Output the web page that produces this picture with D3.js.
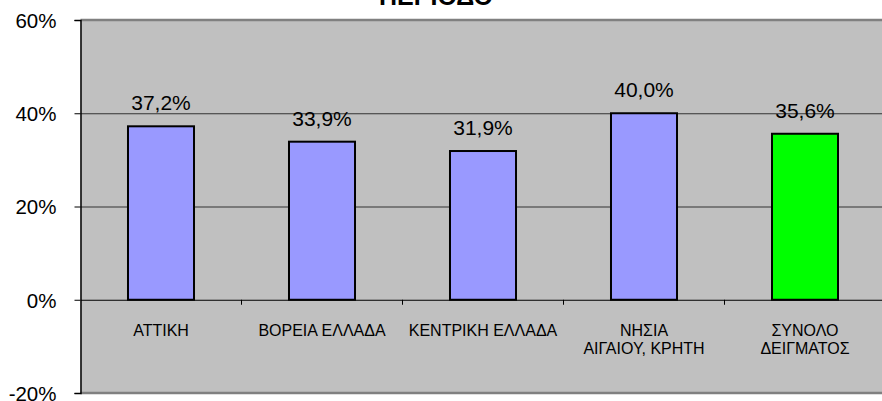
<!DOCTYPE html>
<html>
<head>
<meta charset="utf-8">
<script src="https://cdn.jsdelivr.net/npm/d3@7"></script>
<style>
  body { margin: 0; background: #fff; }
  svg { display: block; font-family: "Liberation Sans", Arial, sans-serif; }
  .y-axis text { font-size: 20.5px; fill: #000; }
  .x-axis text { font-size: 16px; fill: #000; }
  .value { font-size: 21px; fill: #000; }
  .title { font-size: 25px; font-weight: bold; }
</style>
</head>
<body>
<svg id="chart" width="882" height="401"></svg>
<script>
const categories = ["ΑΤΤΙΚΗ", "ΒΟΡΕΙΑ ΕΛΛΑΔΑ", "ΚΕΝΤΡΙΚΗ ΕΛΛΑΔΑ", "ΝΗΣΙΑ ΑΙΓΑΙΟΥ, ΚΡΗΤΗ", "ΣΥΝΟΛΟ ΔΕΙΓΜΑΤΟΣ"];
const categoryLines = [["ΑΤΤΙΚΗ"], ["ΒΟΡΕΙΑ ΕΛΛΑΔΑ"], ["ΚΕΝΤΡΙΚΗ ΕΛΛΑΔΑ"], ["ΝΗΣΙΑ", "ΑΙΓΑΙΟΥ, ΚΡΗΤΗ"], ["ΣΥΝΟΛΟ", "ΔΕΙΓΜΑΤΟΣ"]];
const values = [37.2, 33.9, 31.9, 40.0, 35.6];
const yTicks = [-20, 0, 20, 40, 60];
const title = "ΠΕΡΙΟΔΟ";

const svg = d3.select("#chart");
const plotLeft = 80.5, plotRight = 885.5, plotTop = 20, plotBottom = 393;

const x = d3.scaleBand()
  .domain(categories)
  .range([plotLeft, plotRight])
  .paddingInner(0.59)
  .paddingOuter(0.295);

const y = d3.scaleLinear().domain([-20, 60]).range([plotBottom, plotTop]);

// plot background
svg.append("rect")
  .attr("x", plotLeft).attr("y", plotTop)
  .attr("width", plotRight - plotLeft).attr("height", plotBottom - plotTop)
  .attr("fill", "#c0c0c0");

// gridlines
svg.append("g").selectAll("line")
  .data([20, 40])
  .join("line")
  .attr("x1", plotLeft).attr("x2", plotRight)
  .attr("y1", d => y(d) + 0.5).attr("y2", d => y(d) + 0.5)
  .attr("stroke", "#333").attr("stroke-width", 1);

// top / bottom border of plot area
svg.append("g").selectAll("line")
  .data([60, -20])
  .join("line")
  .attr("x1", plotLeft).attr("x2", plotRight)
  .attr("y1", d => y(d)).attr("y2", d => y(d))
  .attr("stroke", "#808080").attr("stroke-width", 2.5);

// bars
svg.append("g").selectAll("rect")
  .data(values)
  .join("rect")
  .attr("x", (d, i) => x(categories[i]))
  .attr("y", d => y(d))
  .attr("width", x.bandwidth())
  .attr("height", d => y(0) - y(d))
  .attr("fill", (d, i) => i === categories.length - 1 ? "#00ff00" : "#9999ff")
  .attr("stroke", "#000")
  .attr("stroke-width", 2);

// value labels
svg.append("g").selectAll("text")
  .data(values)
  .join("text")
  .attr("class", "value")
  .attr("x", (d, i) => x(categories[i]) + x.bandwidth() / 2)
  .attr("y", d => y(d) - 16)
  .attr("text-anchor", "middle")
  .text(d => d.toFixed(1).replace(".", ",") + "%");

// y axis
const yAxis = svg.append("g")
  .attr("class", "y-axis")
  .attr("transform", `translate(${plotLeft},0)`)
  .call(d3.axisLeft(y).tickValues(yTicks).tickSize(6).tickPadding(18).tickFormat(d => d + "%"));
yAxis.select(".domain").attr("stroke", "#000").attr("stroke-width", 1.5);
yAxis.selectAll(".tick text").attr("dy", "0.36em");

// x axis along zero
const xAxis = svg.append("g")
  .attr("class", "x-axis")
  .attr("transform", `translate(0,${y(0)})`)
  .call(d3.axisBottom(x).tickSize(0).tickSizeOuter(0));
xAxis.select(".domain").attr("stroke", "#000").attr("stroke-width", 1.2);
xAxis.selectAll(".tick text")
  .text("")
  .attr("y", 0).attr("dy", 0)
  .each(function (d, i) {
    const t = d3.select(this);
    categoryLines[i].forEach((line, k) => {
      t.append("tspan").attr("x", 0).attr("y", 36 + k * 18).text(line);
    });
  });

// boundary ticks between categories
xAxis.append("g").selectAll("line")
  .data(categories.slice(1))
  .join("line")
  .attr("x1", d => x(d) - x.step() * x.paddingInner() / 2)
  .attr("x2", d => x(d) - x.step() * x.paddingInner() / 2)
  .attr("y1", 0).attr("y2", 5)
  .attr("stroke", "#000");

// title (last line visible)
svg.append("text")
  .attr("class", "title")
  .attr("x", 436)
  .attr("y", 5)
  .attr("text-anchor", "middle")
  .text(title);
</script>
</body>
</html>
